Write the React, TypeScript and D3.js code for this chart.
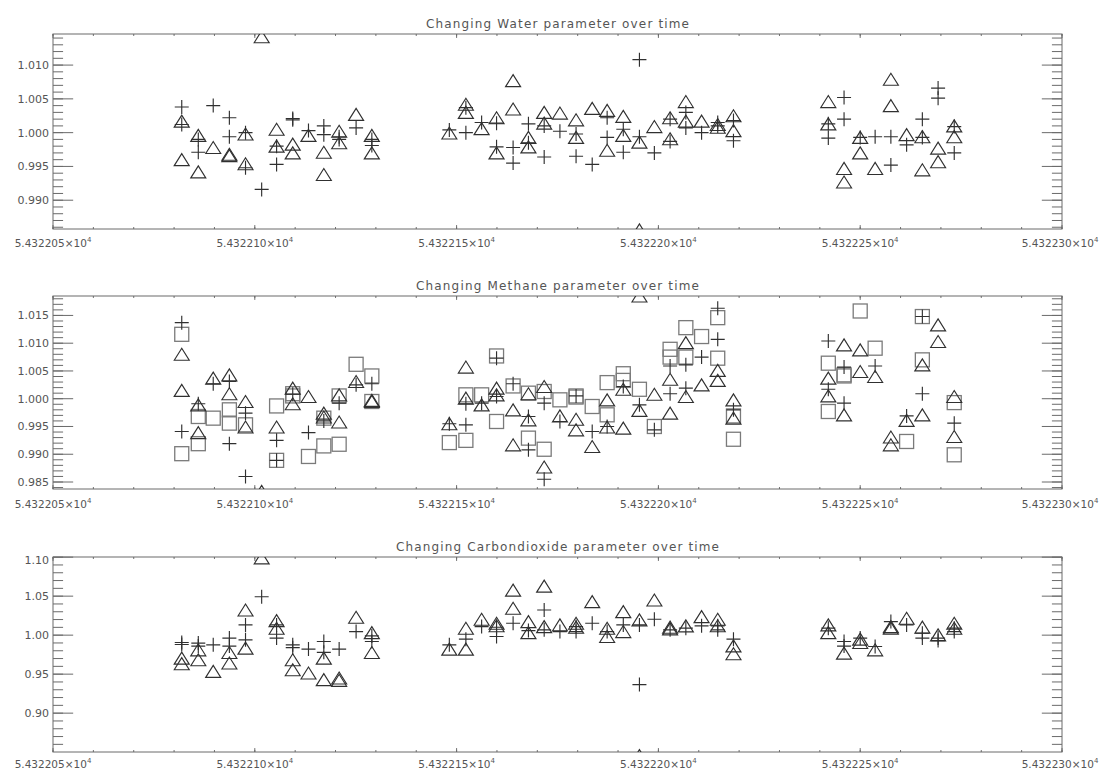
import React from 'react';
import * as d3 from 'd3';

// observation times (MJD), three observing blocks
const times = [
  54322.0819, 54322.086, 54322.0897, 54322.0937, 54322.0977, 54322.1017, 54322.1054, 54322.1094,
  54322.1133, 54322.1171, 54322.1209, 54322.1251, 54322.129,
  54322.1482, 54322.1523, 54322.1562, 54322.1599, 54322.164, 54322.1678, 54322.1717, 54322.1756,
  54322.1796, 54322.1836, 54322.1873, 54322.1913, 54322.1953, 54322.199, 54322.2029, 54322.2068,
  54322.2107, 54322.2147, 54322.2186,
  54322.2421, 54322.246, 54322.25, 54322.2537, 54322.2576, 54322.2615, 54322.2654, 54322.2693,
  54322.2733,
];

type V = number | null;

// Water
const waterTriA: V[] = [
  1.0017, 0.9996, 0.9978, 0.9968, 0.9998, 1.0142, 1.0005, 0.9983, 0.9996, 0.9971, 1.0002, 1.0027, 0.9996,
  0.99995, 1.0042, 1.0006, 1.0022, 1.0077, 0.9993, 1.003, 1.0029, 1.0019, 1.0036, 1.0033, 1.0024, 0.9986,
  1.0009, 1.0022, 1.0046, 1.0017, 1.0012, 1.0025,
  1.0046, 0.9947, 0.9993, 0.9947, 1.0079, 0.9997, 0.9994, 0.9977, 1.001,
];
const waterTriB: V[] = [
  0.996, 0.9942, null, 0.9966, 0.9954, null, 0.998, 0.997, null, 0.9938, 0.9985, null, 0.997,
  null, 1.003, null, 0.997, 1.0035, 0.9979, 1.0014, null, 0.9993, null, 0.9974, 0.9996, 0.9856,
  null, 0.9991, 1.0017, null, 1.0008, 1.0003,
  1.0013, 0.9927, 0.997, null, 1.004, null, 0.9945, 0.9957, 0.9994,
];
const waterPlusA: V[] = [
  1.0038, 0.999, 1.004, 1.0022, 1.0, 0.9916, 0.998, 1.0021, 1.0003, 1.001, 0.9994, 1.0007, 0.9981,
  1.0004, 1.0037, 1.0015, 1.0014, 0.9978, 1.0013, 1.001, 1.0002, 0.9998, 0.9953, 1.0022, 1.0005, 1.0108,
  0.997, 1.002, 1.003, 1.0, 1.0015, 1.0018,
  1.0013, 1.0052, 0.9993, 0.9994, 0.9994, 0.9982, 1.002, 1.0066, 0.997,
];
const waterPlusB: V[] = [
  1.0012, 0.9971, null, 0.9994, 0.9948, null, 0.9953, 1.0019, null, 0.9997, 0.999, null, 0.999,
  null, 1.0, null, 0.9979, 0.9955, 0.9985, 0.9964, null, 0.9965, null, 0.9993, 0.9971, 0.9994,
  null, 0.9987, 1.0007, null, 1.001, 0.9988,
  0.9992, 1.002, null, null, 0.9952, null, 0.9993, 1.0051, 1.0009,
];

// Methane
const methaneTriA: V[] = [
  1.008, 0.9989, 1.0037, 1.0043, 0.9995, 0.9833, 0.9949, 1.0019, 1.0004, 0.9974, 1.0007, 1.0031, 0.9997,
  0.9955, 1.0057, 0.9989, 1.0019, 0.998, 1.0009, 1.0022, 0.9969, 0.9963, 0.9914, 0.9998, 1.0017, 1.0185,
  1.0008, 1.0035, 1.0101, 1.0025, 1.0051, 0.9998,
  1.0037, 1.0097, 1.0088, 1.004, 0.9931, 0.9961, 1.0061, 1.0133, 1.0004,
];
const methaneTriB: V[] = [
  1.0015, 0.9939, null, 1.0009, 0.9949, null, null, 0.9991, null, 0.9967, 0.9958, null, 0.9995,
  null, 1.0001, null, 1.0007, 0.9917, 0.9962, 0.9877, null, 0.9944, null, 0.9949, 0.9947, 0.9979,
  null, 0.9974, 1.0004, null, 1.0033, 0.9965,
  1.0005, 0.9971, 1.0049, null, 0.9917, null, 0.9971, 1.0103, 0.9932,
];
const methanePlusA: V[] = [
  1.0137, 0.9991, 1.0027, 1.0031, 0.9974, null, 0.9925, 1.0008, 0.9939, 0.996, 0.9992, 1.0025, 1.0027,
  0.9955, 0.9991, 0.9992, 1.0073, 1.0027, 0.9968, 0.9992, 0.9959, 1.0005, 0.9941, 0.995, 1.0022, 0.9989,
  0.9944, 1.0059, 1.0061, 1.0075, 1.0163, 0.998,
  1.0104, 1.0057, null, 1.0059, null, 0.9969, 1.0148, null, 0.9956,
];
const methanePlusB: V[] = [
  0.9941, null, null, 0.9919, 0.986, null, 0.9889, null, null, null, null, null, null,
  null, 0.9953, null, 1.0004, null, 0.9908, 0.9855, null, null, null, null, null, null,
  null, 1.0009, 1.0019, null, 1.0107, null,
  1.0017, 0.9992, null, null, null, null, 1.0009, null, null,
];
const methaneSqA: V[] = [
  1.0116, 0.9968, 0.9965, 0.998, 0.9953, null, 0.9987, 1.0009, 0.9896, 0.9965, 1.0005, 1.0062, 1.0041,
  0.9921, 1.0007, 1.0007, 1.0077, 1.0023, 1.001, 1.0013, 0.9998, 1.0005, 0.9986, 1.0029, 1.0045, 1.0017,
  0.995, 1.0089, 1.0128, 1.0112, 1.0146, 0.9969,
  1.0064, 1.0043, 1.0158, 1.0091, null, 0.9923, 1.0148, null, 0.9993,
];
const methaneSqB: V[] = [
  0.9901, 0.9919, null, 0.9956, null, null, 0.9889, 1.0005, null, 0.9915, 0.9918, null, 0.9995,
  null, 0.9925, null, 0.9959, null, 0.9929, 0.9909, null, 1.0003, null, 0.9971, 1.0033, null,
  null, 1.0075, 1.0075, null, 1.0073, 0.9927,
  0.9977, 1.0041, null, null, null, null, 1.007, null, 0.9899,
];

// Carbon dioxide
const co2TriA: V[] = [
  0.9706, 0.9812, 0.9536, 0.9778, 1.0323, 1.099, 1.0186, 0.9685, 0.9515, 0.9706, 0.9451, 1.023, 1.0033,
  0.9821, 1.0089, 1.0204, 1.0153, 1.0578, 1.0174, 1.0629, 1.0131, 1.0153, 1.0429, 1.0089, 1.0301, 1.0195,
  1.0451, 1.0102, 1.0119, 1.0238, 1.0204, 0.9863,
  1.0131, 0.977, 0.9949, 0.9812, 1.011, 1.0217, 1.0102, 1.0004, 1.0153,
];
const co2TriB: V[] = [
  0.9634, 0.9685, null, 0.9643, 0.9834, null, 1.0089, 0.9557, null, 0.943, 0.9421, null, 0.9778,
  null, 0.9821, null, 1.012, 1.0345, 1.0033, 1.011, null, 1.0102, null, 0.9983, 1.0046, 0.8456,
  null, 1.008, null, null, 1.012, 0.9761,
  1.0033, null, 0.9906, null, 1.009, null, null, null, 1.0089,
];
const co2PlusA: V[] = [
  0.9906, 0.9898, 0.9876, 0.9962, 1.0131, 1.0493, 1.0131, 0.9876, 0.9821, 0.9919, 0.9821, 1.0046, 0.9919,
  0.9876, 0.9949, 1.011, 1.0102, 1.0153, 1.0059, 1.0323, 1.0046, 1.011, 1.0153, 1.0046, 1.0131, 1.0131,
  1.0204, 1.0068, 1.009, 1.0119, 1.0119, 0.9949,
  1.009, 0.9919, 0.9962, 0.9855, 1.0174, 1.0131, 1.0026, 0.9962, 1.009,
];
const co2PlusB: V[] = [
  0.988, 0.986, null, 0.986, 0.994, null, 0.9962, 0.984, null, 0.978, null, null, 0.999,
  null, null, null, 0.9983, null, null, 1.0068, null, 1.0046, null, null, null, 0.9366,
  null, null, null, null, 1.0068, null,
  null, 0.986, null, null, null, null, 0.9962, 0.993, 1.0046,
];

const xDomain: [number, number] = [54322.05, 54322.3];
const xLabels = ['5.432205', '5.432210', '5.432215', '5.432220', '5.432225', '5.432230'];

type Shape = 'tri' | 'plus' | 'sq';
type Series = { shape: Shape; values: V[] };
type Panel = {
  title: string;
  titleWidth: number;
  top: number;
  bottom: number;
  labelDy: number;
  domain: [number, number];
  major: number;
  minor: number;
  decimals: number;
  series: Series[];
};

const left = 53;
const right = 1062;

const panels: Panel[] = [
  {
    title: 'Changing Water parameter over time',
    titleWidth: 263,
    top: 34,
    bottom: 229,
    labelDy: 18,
    domain: [0.98574, 1.0146],
    major: 0.005,
    minor: 0.001,
    decimals: 3,
    series: [
      { shape: 'tri', values: waterTriA },
      { shape: 'tri', values: waterTriB },
      { shape: 'plus', values: waterPlusA },
      { shape: 'plus', values: waterPlusB },
    ],
  },
  {
    title: 'Changing Methane parameter over time',
    titleWidth: 283,
    top: 296,
    bottom: 489,
    labelDy: 19,
    domain: [0.98374, 1.0185],
    major: 0.005,
    minor: 0.001,
    decimals: 3,
    series: [
      { shape: 'sq', values: methaneSqA },
      { shape: 'sq', values: methaneSqB },
      { shape: 'tri', values: methaneTriA },
      { shape: 'tri', values: methaneTriB },
      { shape: 'plus', values: methanePlusA },
      { shape: 'plus', values: methanePlusB },
    ],
  },
  {
    title: 'Changing Carbondioxide parameter over time',
    titleWidth: 323,
    top: 557,
    bottom: 752,
    labelDy: 15.5,
    domain: [0.8502, 1.1002],
    major: 0.05,
    minor: 0.01,
    decimals: 2,
    series: [
      { shape: 'tri', values: co2TriA },
      { shape: 'tri', values: co2TriB },
      { shape: 'plus', values: co2PlusA },
      { shape: 'plus', values: co2PlusB },
    ],
  },
];

const axisColor = '#6a6a6a';
const textColor = '#555';

function stepTicks(lo: number, hi: number, step: number) {
  const out: number[] = [];
  const a = Math.ceil(lo / step - 1e-6);
  const b = Math.floor(hi / step + 1e-6);
  for (let i = a; i <= b; i++) out.push(+(i * step).toFixed(6));
  return out;
}

const Marker: React.FC<{ shape: Shape; x: number; y: number }> = ({ shape, x, y }) => {
  if (shape === 'tri')
    return <path d={`M${x - 7.5},${y + 6}L${x},${y - 6}L${x + 7.5},${y + 6}Z`} fill="none" stroke="#303030" strokeWidth={1.15} />;
  if (shape === 'plus')
    return <path d={`M${x - 7},${y}H${x + 7}M${x},${y - 7}V${y + 7}`} stroke="#303030" strokeWidth={1.15} />;
  return <rect x={x - 7} y={y - 7} width={14} height={14} fill="none" stroke="#7a7a7a" strokeWidth={1.3} />;
};

const PanelView: React.FC<{ p: Panel; idx: number }> = ({ p, idx }) => {
  const x = d3.scaleLinear().domain(xDomain).range([left, right]);
  const y = d3.scaleLinear().domain(p.domain).range([p.bottom, p.top]);
  const h = p.bottom - p.top;
  const w = right - left;
  const xMajor = d3.range(0, 6).map((i) => xDomain[0] + i * 0.05);
  const xMinor = d3.range(0, 26).map((i) => xDomain[0] + i * 0.01);
  const yMajor = stepTicks(p.domain[0], p.domain[1], p.major);
  const yMinor = stepTicks(p.domain[0], p.domain[1], p.minor);
  const xLen = 0.02 * h;
  const yLen = 0.02 * w;
  const clipId = `clip${idx}`;
  return (
    <g>
      <clipPath id={clipId}>
        <rect x={left} y={p.top} width={w} height={h} />
      </clipPath>
      <text
        x={(left + right) / 2}
        y={p.top - 6}
        textAnchor="middle"
        fontSize={12}
        fill={textColor}
        textLength={p.titleWidth}
        lengthAdjust="spacing"
      >
        {p.title}
      </text>
      <g stroke={axisColor} strokeWidth={1}>
        <rect x={left} y={p.top} width={w} height={h} fill="none" />
        {xMinor.map((t, i) => (
          <g key={'xm' + i}>
            <line x1={x(t)} x2={x(t)} y1={p.bottom} y2={p.bottom - xLen / 2} />
            <line x1={x(t)} x2={x(t)} y1={p.top} y2={p.top + xLen / 2} />
          </g>
        ))}
        {xMajor.map((t, i) => (
          <g key={'xM' + i}>
            <line x1={x(t)} x2={x(t)} y1={p.bottom} y2={p.bottom - xLen} />
            <line x1={x(t)} x2={x(t)} y1={p.top} y2={p.top + xLen} />
          </g>
        ))}
        {yMinor.map((v, i) => (
          <g key={'ym' + i}>
            <line x1={left} x2={left + yLen / 2} y1={y(v)} y2={y(v)} />
            <line x1={right} x2={right - yLen / 2} y1={y(v)} y2={y(v)} />
          </g>
        ))}
        {yMajor.map((v, i) => (
          <g key={'yM' + i}>
            <line x1={left} x2={left + yLen} y1={y(v)} y2={y(v)} />
            <line x1={right} x2={right - yLen} y1={y(v)} y2={y(v)} />
          </g>
        ))}
      </g>
      {yMajor.map((v, i) => (
        <text
          key={'yl' + i}
          x={left - 4}
          y={Math.max(y(v), p.top + 3) + 4}
          textAnchor="end"
          fontSize={11}
          fill={textColor}
        >
          {v.toFixed(p.decimals)}
        </text>
      ))}
      {xMajor.map((t, i) => (
        <text
          key={'xl' + i}
          x={Math.min(x(t), 1060)}
          y={p.bottom + p.labelDy}
          textAnchor="middle"
          fontSize={10.5}
          fill={textColor}
        >
          {xLabels[i]}×10
          <tspan fontSize={7} dy={-5}>
            4
          </tspan>
        </text>
      ))}
      <g clipPath={`url(#${clipId})`}>
        {p.series.map((s, si) =>
          s.values.map((v, i) =>
            v == null ? null : <Marker key={si + '-' + i} shape={s.shape} x={x(times[i])} y={y(v)} />,
          ),
        )}
      </g>
    </g>
  );
};

export default function App() {
  return (
    <svg
      width={1103}
      height={771}
      style={{ position: 'absolute', left: 0, top: 0, background: '#fff' }}
      fontFamily="'DejaVu Sans', sans-serif"
    >
      <rect width={1103} height={771} fill="#fff" />
      {panels.map((p, i) => (
        <PanelView key={i} p={p} idx={i} />
      ))}
    </svg>
  );
}
